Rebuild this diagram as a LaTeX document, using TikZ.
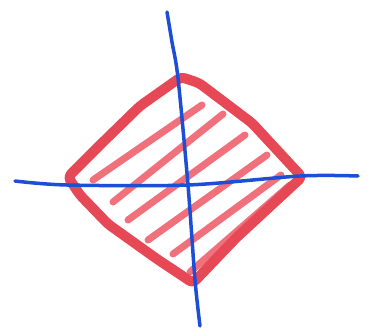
\documentclass[tikz,border=0pt]{standalone}
\usepackage{tikz}
\usetikzlibrary{calc}
\definecolor{markred}{RGB}{230,72,86}
\definecolor{hatchred}{RGB}{240,112,124}
\definecolor{markblue}{RGB}{28,78,214}
\begin{document}
\begin{tikzpicture}[x=1pt, y=-1pt]
\useasboundingbox (0,0) rectangle (373,330);
\foreach \xa/\ya/\xb/\yb in {93/180/202/105, 113/202/223/114, 128/220/245/135,
                             148/240/267/155, 173/254/281/175, 190/272/290/185} {
  \draw[hatchred, line width=7pt, line cap=round] (\xa,\ya) -- (\xb,\yb);
}
\draw[markred, line width=10pt, line join=round, rounded corners=4pt]
  (68,177) -- (102,143) -- (140,106) -- (181,77) -- (199,83) -- (252,123)
  -- (302,177) -- (236,238) -- (193,283) -- (157,259) -- (108,224) -- (80,195) -- cycle;
\draw[markblue, line width=3.5pt, line cap=round]
  plot[smooth, tension=0.5] coordinates {(167,12) (172,42) (178,78) (188,185) (195,280) (200,326)};
\draw[markblue, line width=3.5pt, line cap=round]
  plot[smooth, tension=0.5] coordinates {(15,181) (67,185) (188,185) (300,176) (358,176)};
\end{tikzpicture}
\end{document}
